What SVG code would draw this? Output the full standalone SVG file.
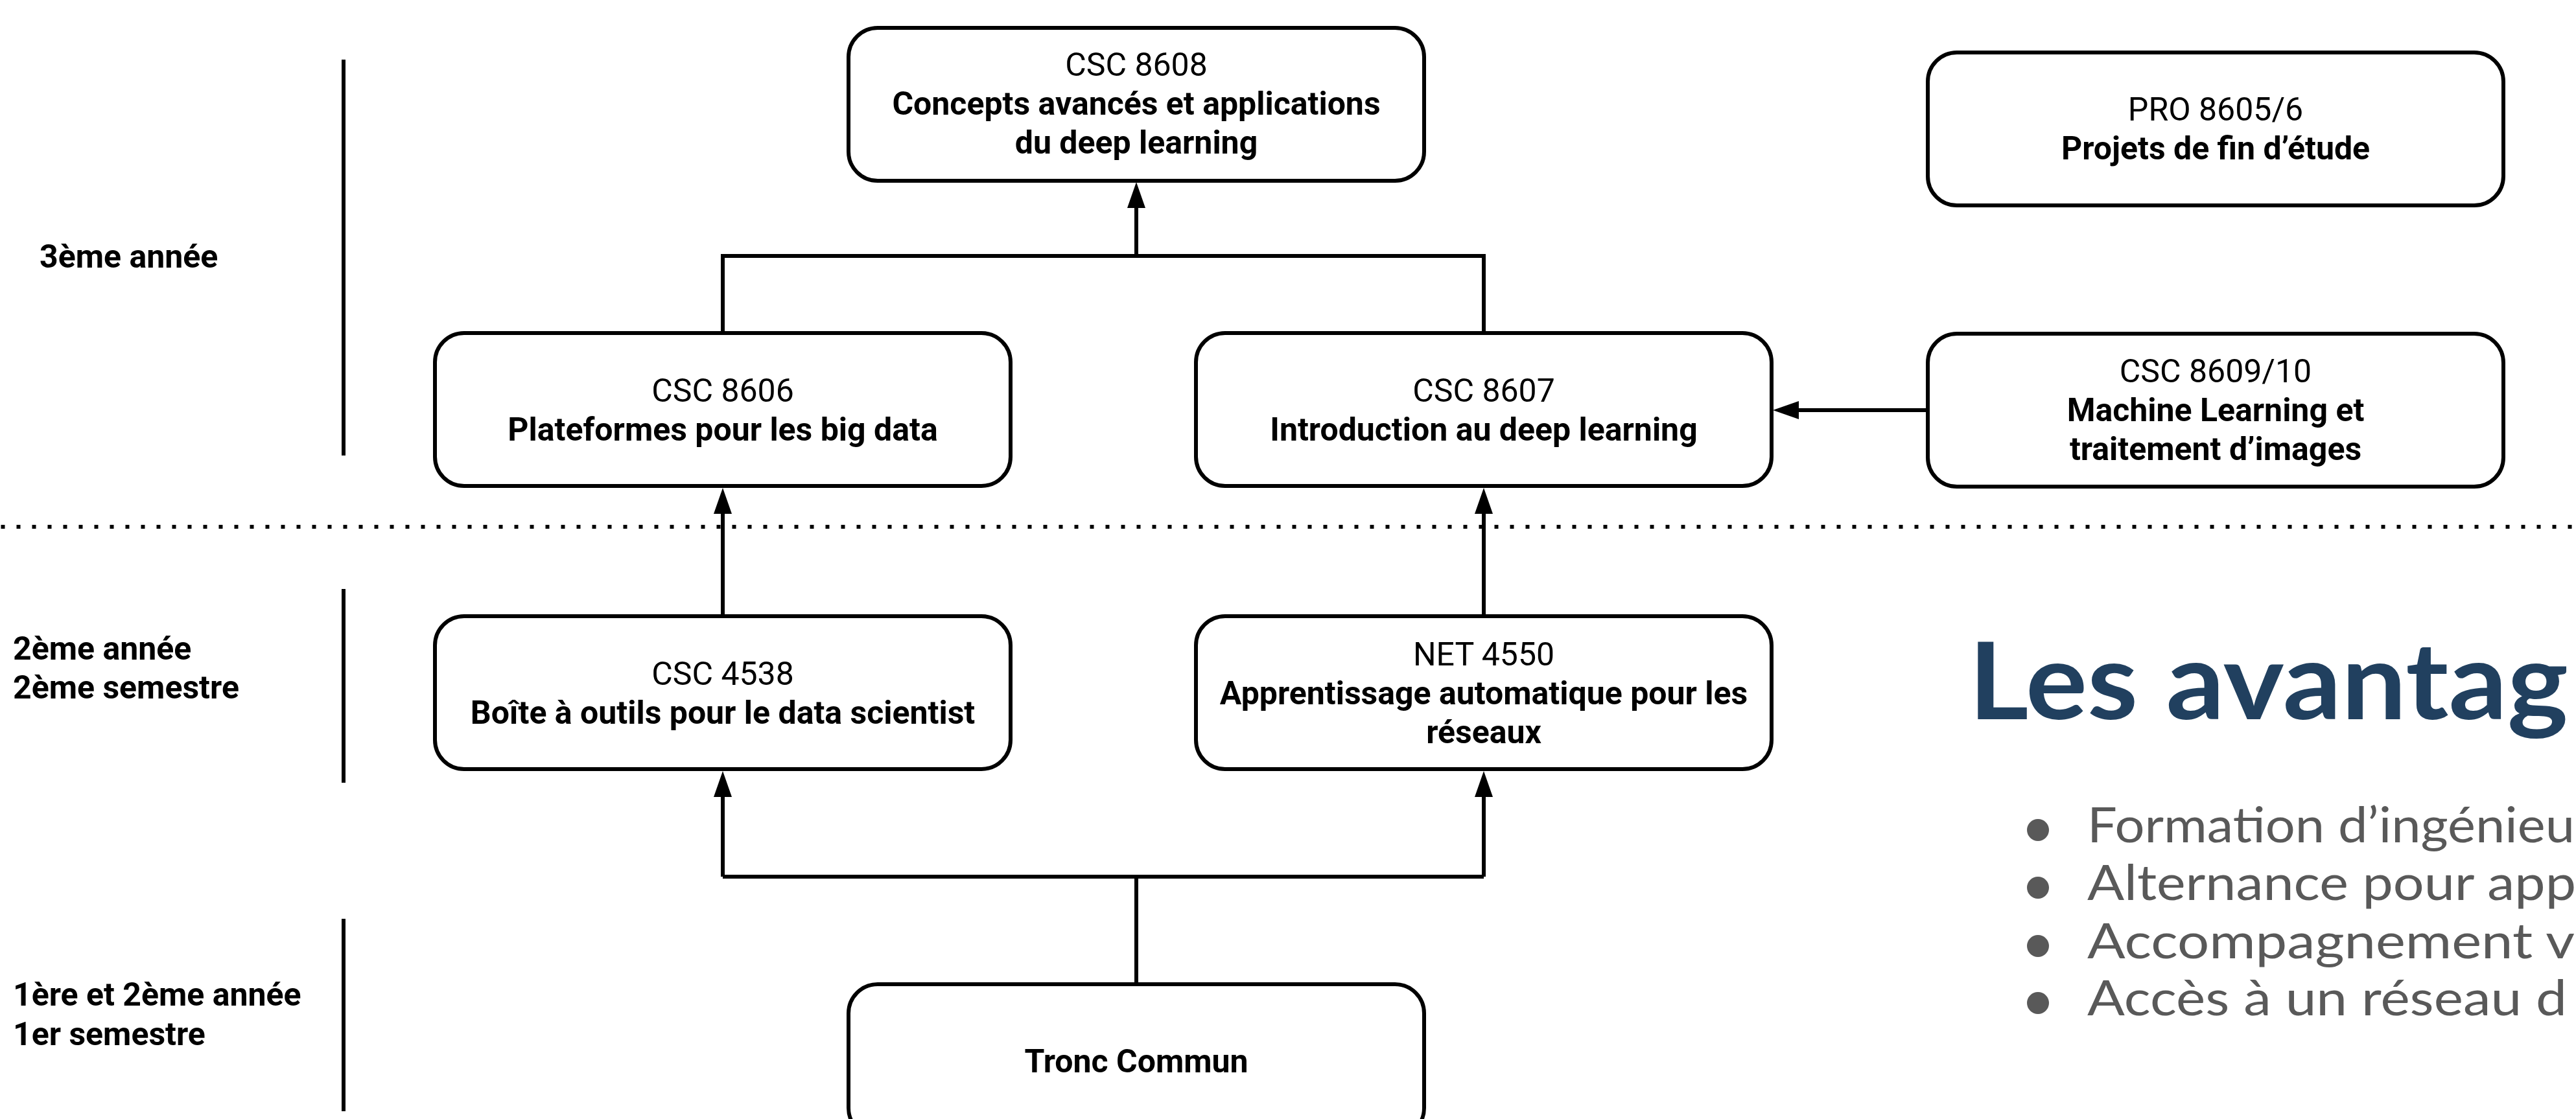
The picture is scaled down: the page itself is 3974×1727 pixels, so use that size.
<svg xmlns="http://www.w3.org/2000/svg" width="3974" height="1727" viewBox="0 0 3974 1727">
<style>
.box{fill:#fff;stroke:#000;stroke-width:6}
.t{font-family:Roboto,"Liberation Sans",sans-serif;font-size:50px;text-anchor:middle;fill:#000}
.b{font-weight:bold}
.lbl{font-family:Roboto,"Liberation Sans",sans-serif;font-size:50px;font-weight:bold;fill:#000}
.conn{fill:none;stroke:#000;stroke-width:6}
.sep{fill:none;stroke:#000;stroke-width:6}
.dots{fill:none;stroke:#000;stroke-width:6;stroke-dasharray:6 18}
.head{font-family:Lato,"Open Sans",sans-serif;font-size:164px;font-weight:bold;fill:#21405f}
.bul{font-family:Lato,"Open Sans",sans-serif;font-size:76px;font-weight:normal;fill:#595959}
.dot{fill:#595959}
</style>
<defs>
<marker id="arr" markerUnits="userSpaceOnUse" markerWidth="42" markerHeight="30" refX="0" refY="14" orient="auto" overflow="visible">
<path d="M0,0 L40,14 L0,28 Z" fill="#000"/>
</marker>
</defs>
<rect x="0" y="0" width="3974" height="1727" fill="#fff"/>

<g id="year-labels">
<text class="lbl" x="61" y="413">3ème année</text>
<text class="lbl" x="20" y="1018">2ème année</text>
<text class="lbl" x="20" y="1078">2ème semestre</text>
<text class="lbl" x="20" y="1552">1ère et 2ème année</text>
<text class="lbl" x="20" y="1613">1er semestre</text>
<path class="sep" d="M530,92 V703 M530,909 V1208 M530,1418 V1715"/>
<path class="dots" d="M1.5,813 H3974"/>
</g>

<g id="connectors">
<path class="conn" d="M1115,514 V395 H2289 V514"/>
<path class="conn" d="M1753,395 V321" marker-end="url(#arr)"/>
<path class="conn" d="M1115,951 V793" marker-end="url(#arr)"/>
<path class="conn" d="M2289,951 V793" marker-end="url(#arr)"/>
<path class="conn" d="M1753,1519 V1353"/>
<path class="conn" d="M1115,1353 H2289"/>
<path class="conn" d="M1115,1353 V1230" marker-end="url(#arr)"/>
<path class="conn" d="M2289,1353 V1230" marker-end="url(#arr)"/>
<path class="conn" d="M2974,633 H2775" marker-end="url(#arr)"/>
</g>

<g id="csc8608">
<rect class="box" x="1309" y="43" width="888" height="236" rx="45"/>
<text class="t" x="1753" y="117">CSC 8608</text>
<text class="t b" x="1753" y="177">Concepts avancés et applications</text>
<text class="t b" x="1753" y="237">du deep learning</text>
</g>

<g id="pro8605">
<rect class="box" x="2974" y="81" width="888" height="236" rx="45"/>
<text class="t" x="3418" y="186">PRO 8605/6</text>
<text class="t b" x="3418" y="246">Projets de fin d’étude</text>
</g>

<g id="csc8606">
<rect class="box" x="671" y="514" width="888" height="236" rx="45"/>
<text class="t" x="1115" y="620">CSC 8606</text>
<text class="t b" x="1115" y="680">Plateformes pour les big data</text>
</g>

<g id="csc8607">
<rect class="box" x="1845" y="514" width="888" height="236" rx="45"/>
<text class="t" x="2289" y="620">CSC 8607</text>
<text class="t b" x="2289" y="680">Introduction au deep learning</text>
</g>

<g id="csc8609">
<rect class="box" x="2974" y="515" width="888" height="236" rx="45"/>
<text class="t" x="3418" y="590">CSC 8609/10</text>
<text class="t b" x="3418" y="650">Machine Learning et</text>
<text class="t b" x="3418" y="710">traitement d’images</text>
</g>

<g id="csc4538">
<rect class="box" x="671" y="951" width="888" height="236" rx="45"/>
<text class="t" x="1115" y="1057">CSC 4538</text>
<text class="t b" x="1115" y="1117">Boîte à outils pour le data scientist</text>
</g>

<g id="net4550">
<rect class="box" x="1845" y="951" width="888" height="236" rx="45"/>
<text class="t" x="2289" y="1027">NET 4550</text>
<text class="t b" x="2289" y="1087">Apprentissage automatique pour les</text>
<text class="t b" x="2289" y="1147">réseaux</text>
</g>

<g id="tronc">
<rect class="box" x="1309" y="1519" width="888" height="236" rx="45"/>
<text class="t b" x="1753" y="1655">Tronc Commun</text>
</g>

<g id="avantages">
<text class="head" x="3037" y="1110" textLength="925" lengthAdjust="spacingAndGlyphs">Les avantag</text>
<circle class="dot" cx="3144" cy="1281" r="17"/>
<circle class="dot" cx="3144" cy="1370" r="17"/>
<circle class="dot" cx="3144" cy="1460" r="17"/>
<circle class="dot" cx="3144" cy="1548" r="17"/>
<text class="bul" x="3220" y="1300" textLength="752" lengthAdjust="spacingAndGlyphs">Formation d’ingénieu</text>
<text class="bul" x="3220" y="1389" textLength="754" lengthAdjust="spacingAndGlyphs">Alternance pour app</text>
<text class="bul" x="3220" y="1479" textLength="752" lengthAdjust="spacingAndGlyphs">Accompagnement v</text>
<text class="bul" x="3220" y="1567" textLength="740" lengthAdjust="spacingAndGlyphs">Accès à un réseau d</text>
</g>
</svg>
